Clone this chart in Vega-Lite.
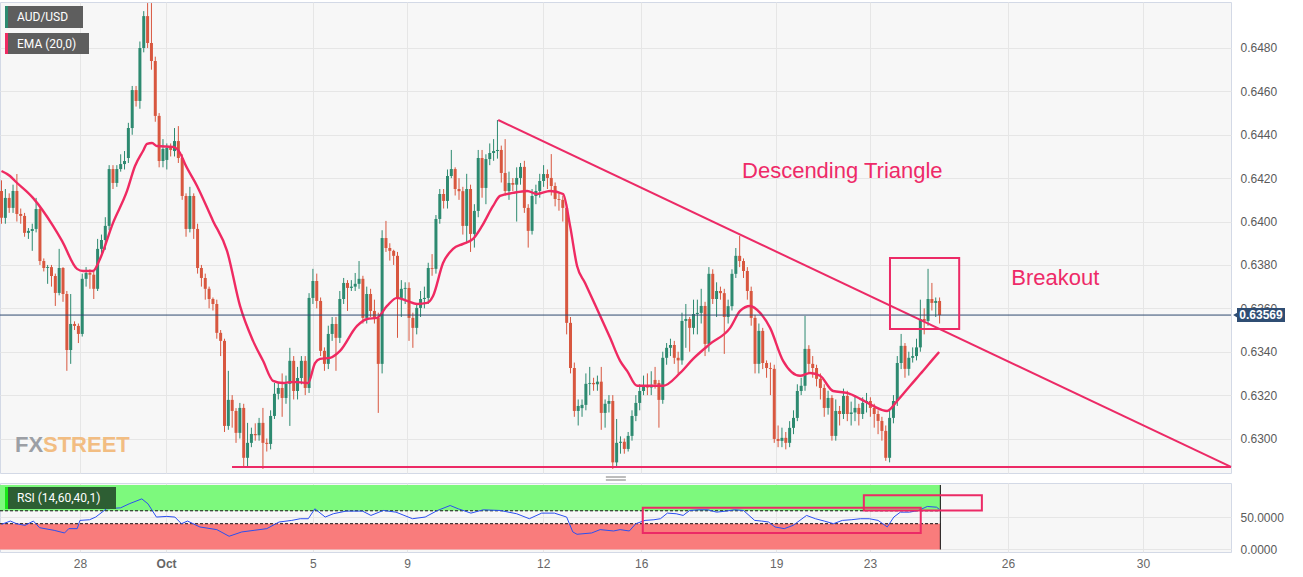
{
"$schema":"https://vega.github.io/schema/vega-lite/v6.json",
"background":"#ffffff",
"padding":{"left":-4,"top":1,"right":22,"bottom":5},
"spacing":2,
"config":{
 "view":{"stroke":"#d3d9e6","fill":"#f7f7f7","strokeWidth":1},
 "axis":{"labelFont":"Liberation Sans","labelColor":"#5a5a5a","labelFontSize":12,"gridColor":"#e6e6e6","domain":false,"ticks":false}
},
"datasets":{
"one":[{}],
"candles":[
{"t":0,"o":0.64141,"h":0.64190,"l":0.63990,"c":0.64017},
{"t":1,"o":0.64017,"h":0.64150,"l":0.63990,"c":0.64109},
{"t":2,"o":0.64109,"h":0.64130,"l":0.64040,"c":0.64063},
{"t":3,"o":0.64063,"h":0.64170,"l":0.64040,"c":0.64141},
{"t":4,"o":0.64141,"h":0.64219,"l":0.64000,"c":0.64035},
{"t":5,"o":0.64035,"h":0.64060,"l":0.63990,"c":0.64026},
{"t":6,"o":0.64026,"h":0.64040,"l":0.63930,"c":0.63948},
{"t":7,"o":0.63948,"h":0.63970,"l":0.63920,"c":0.63957},
{"t":8,"o":0.63957,"h":0.63990,"l":0.63865,"c":0.63966},
{"t":9,"o":0.63966,"h":0.64109,"l":0.63950,"c":0.64058},
{"t":10,"o":0.64058,"h":0.64070,"l":0.63800,"c":0.63818},
{"t":11,"o":0.63818,"h":0.63830,"l":0.63770,"c":0.63786},
{"t":12,"o":0.63786,"h":0.63800,"l":0.63713,"c":0.63790},
{"t":13,"o":0.63790,"h":0.63800,"l":0.63700,"c":0.63749},
{"t":14,"o":0.63749,"h":0.63760,"l":0.63611,"c":0.63671},
{"t":15,"o":0.63671,"h":0.63874,"l":0.63660,"c":0.63786},
{"t":16,"o":0.63786,"h":0.63790,"l":0.63630,"c":0.63666},
{"t":17,"o":0.63666,"h":0.63680,"l":0.63312,"c":0.63408},
{"t":18,"o":0.63408,"h":0.63666,"l":0.63344,"c":0.63528},
{"t":19,"o":0.63528,"h":0.63540,"l":0.63500,"c":0.63519},
{"t":20,"o":0.63519,"h":0.63530,"l":0.63440,"c":0.63482},
{"t":21,"o":0.63482,"h":0.63760,"l":0.63470,"c":0.63736},
{"t":22,"o":0.63736,"h":0.63790,"l":0.63700,"c":0.63763},
{"t":23,"o":0.63763,"h":0.63780,"l":0.63690,"c":0.63755},
{"t":24,"o":0.63755,"h":0.63770,"l":0.63643,"c":0.63690},
{"t":25,"o":0.63690,"h":0.63920,"l":0.63680,"c":0.63874},
{"t":26,"o":0.63874,"h":0.63940,"l":0.63850,"c":0.63915},
{"t":27,"o":0.63915,"h":0.64020,"l":0.63870,"c":0.63980},
{"t":28,"o":0.63980,"h":0.64260,"l":0.63960,"c":0.64242},
{"t":29,"o":0.64242,"h":0.64260,"l":0.64150,"c":0.64178},
{"t":30,"o":0.64178,"h":0.64260,"l":0.64160,"c":0.64242},
{"t":31,"o":0.64242,"h":0.64310,"l":0.64230,"c":0.64265},
{"t":32,"o":0.64265,"h":0.64325,"l":0.64240,"c":0.64279},
{"t":33,"o":0.64293,"h":0.64455,"l":0.64270,"c":0.64431},
{"t":34,"o":0.64431,"h":0.64625,"l":0.64400,"c":0.64606},
{"t":35,"o":0.64606,"h":0.64625,"l":0.64530,"c":0.64556},
{"t":36,"o":0.64556,"h":0.64830,"l":0.64520,"c":0.64800},
{"t":37,"o":0.64800,"h":0.64970,"l":0.64780,"c":0.64947},
{"t":38,"o":0.64947,"h":0.65007,"l":0.64800,"c":0.64823},
{"t":39,"o":0.64823,"h":0.65007,"l":0.64700,"c":0.64740},
{"t":40,"o":0.64740,"h":0.64760,"l":0.64460,"c":0.64487},
{"t":41,"o":0.64487,"h":0.64500,"l":0.64250,"c":0.64279},
{"t":42,"o":0.64279,"h":0.64380,"l":0.64250,"c":0.64335},
{"t":43,"o":0.64284,"h":0.64360,"l":0.64240,"c":0.64339},
{"t":44,"o":0.64339,"h":0.64360,"l":0.64300,"c":0.64330},
{"t":45,"o":0.64325,"h":0.64431,"l":0.64300,"c":0.64371},
{"t":46,"o":0.64371,"h":0.64440,"l":0.64270,"c":0.64293},
{"t":47,"o":0.64293,"h":0.64310,"l":0.64100,"c":0.64118},
{"t":48,"o":0.64118,"h":0.64130,"l":0.63930,"c":0.63966},
{"t":49,"o":0.63966,"h":0.64160,"l":0.63950,"c":0.64118},
{"t":50,"o":0.64118,"h":0.64130,"l":0.63920,"c":0.63966},
{"t":51,"o":0.63966,"h":0.63990,"l":0.63760,"c":0.63786},
{"t":52,"o":0.63786,"h":0.63800,"l":0.63700,"c":0.63740},
{"t":53,"o":0.63740,"h":0.63760,"l":0.63640,"c":0.63690},
{"t":54,"o":0.63690,"h":0.63700,"l":0.63600,"c":0.63643},
{"t":55,"o":0.63643,"h":0.63650,"l":0.63590,"c":0.63620},
{"t":56,"o":0.63620,"h":0.63640,"l":0.63460,"c":0.63487},
{"t":57,"o":0.63487,"h":0.63500,"l":0.63380,"c":0.63450},
{"t":58,"o":0.63450,"h":0.63460,"l":0.63030,"c":0.63058},
{"t":59,"o":0.63058,"h":0.63312,"l":0.63040,"c":0.63178},
{"t":60,"o":0.63178,"h":0.63200,"l":0.63050,"c":0.63127},
{"t":61,"o":0.63127,"h":0.63140,"l":0.62980,"c":0.63026},
{"t":62,"o":0.63026,"h":0.63164,"l":0.63000,"c":0.63141},
{"t":63,"o":0.63141,"h":0.63160,"l":0.62865,"c":0.62911},
{"t":64,"o":0.62911,"h":0.63072,"l":0.62865,"c":0.62980},
{"t":65,"o":0.62980,"h":0.63050,"l":0.62960,"c":0.63021},
{"t":66,"o":0.63021,"h":0.63070,"l":0.62990,"c":0.63015},
{"t":67,"o":0.63015,"h":0.63095,"l":0.62990,"c":0.63072},
{"t":68,"o":0.63072,"h":0.63141,"l":0.62860,"c":0.62980},
{"t":69,"o":0.62980,"h":0.63000,"l":0.62940,"c":0.62975},
{"t":70,"o":0.62975,"h":0.63130,"l":0.62950,"c":0.63104},
{"t":71,"o":0.63104,"h":0.63256,"l":0.63090,"c":0.63206},
{"t":72,"o":0.63206,"h":0.63260,"l":0.63180,"c":0.63233},
{"t":73,"o":0.63233,"h":0.63300,"l":0.63100,"c":0.63187},
{"t":74,"o":0.63187,"h":0.63290,"l":0.63160,"c":0.63252},
{"t":75,"o":0.63252,"h":0.63418,"l":0.63058,"c":0.63358},
{"t":76,"o":0.63358,"h":0.63380,"l":0.63180,"c":0.63219},
{"t":77,"o":0.63219,"h":0.63330,"l":0.63180,"c":0.63279},
{"t":78,"o":0.63279,"h":0.63380,"l":0.63250,"c":0.63358},
{"t":79,"o":0.63358,"h":0.63380,"l":0.63200,"c":0.63233},
{"t":80,"o":0.63233,"h":0.63670,"l":0.63210,"c":0.63648},
{"t":81,"o":0.63648,"h":0.63782,"l":0.63620,"c":0.63726},
{"t":82,"o":0.63726,"h":0.63760,"l":0.63600,"c":0.63634},
{"t":83,"o":0.63634,"h":0.63650,"l":0.63380,"c":0.63404},
{"t":84,"o":0.63404,"h":0.63420,"l":0.63312,"c":0.63344},
{"t":85,"o":0.63344,"h":0.63520,"l":0.63320,"c":0.63482},
{"t":86,"o":0.63482,"h":0.63560,"l":0.63450,"c":0.63528},
{"t":87,"o":0.63528,"h":0.63560,"l":0.63312,"c":0.63464},
{"t":88,"o":0.63464,"h":0.63680,"l":0.63440,"c":0.63643},
{"t":89,"o":0.63643,"h":0.63740,"l":0.63620,"c":0.63717},
{"t":90,"o":0.63717,"h":0.63730,"l":0.63588,"c":0.63694},
{"t":91,"o":0.63694,"h":0.63730,"l":0.63680,"c":0.63700},
{"t":92,"o":0.63700,"h":0.63763,"l":0.63680,"c":0.63713},
{"t":93,"o":0.63713,"h":0.63818,"l":0.63690,"c":0.63736},
{"t":94,"o":0.63736,"h":0.63750,"l":0.63530,"c":0.63556},
{"t":95,"o":0.63556,"h":0.63700,"l":0.63530,"c":0.63666},
{"t":96,"o":0.63666,"h":0.63690,"l":0.63560,"c":0.63588},
{"t":97,"o":0.63588,"h":0.63640,"l":0.63530,"c":0.63556},
{"t":98,"o":0.63556,"h":0.63580,"l":0.63118,"c":0.63344},
{"t":99,"o":0.63344,"h":0.63960,"l":0.63300,"c":0.63924},
{"t":100,"o":0.63924,"h":0.64003,"l":0.63860,"c":0.63878},
{"t":101,"o":0.63878,"h":0.63900,"l":0.63820,"c":0.63865},
{"t":102,"o":0.63865,"h":0.63870,"l":0.63800,"c":0.63842},
{"t":103,"o":0.63842,"h":0.63860,"l":0.63464,"c":0.63648},
{"t":104,"o":0.63648,"h":0.63730,"l":0.63560,"c":0.63690},
{"t":105,"o":0.63690,"h":0.63720,"l":0.63620,"c":0.63694},
{"t":106,"o":0.63694,"h":0.63720,"l":0.63450,"c":0.63556},
{"t":107,"o":0.63556,"h":0.63580,"l":0.63418,"c":0.63510},
{"t":108,"o":0.63510,"h":0.63620,"l":0.63480,"c":0.63602},
{"t":109,"o":0.63602,"h":0.63680,"l":0.63560,"c":0.63643},
{"t":110,"o":0.63643,"h":0.63700,"l":0.63600,"c":0.63648},
{"t":111,"o":0.63648,"h":0.63810,"l":0.63620,"c":0.63786},
{"t":112,"o":0.63786,"h":0.63850,"l":0.63750,"c":0.63782},
{"t":113,"o":0.63782,"h":0.64030,"l":0.63760,"c":0.64012},
{"t":114,"o":0.64012,"h":0.64150,"l":0.63990,"c":0.64127},
{"t":115,"o":0.64127,"h":0.64150,"l":0.64060,"c":0.64095},
{"t":116,"o":0.64095,"h":0.64240,"l":0.64060,"c":0.64210},
{"t":117,"o":0.64210,"h":0.64330,"l":0.64200,"c":0.64242},
{"t":118,"o":0.64242,"h":0.64250,"l":0.64120,"c":0.64150},
{"t":119,"o":0.64150,"h":0.64200,"l":0.64100,"c":0.64140},
{"t":120,"o":0.64140,"h":0.64160,"l":0.63940,"c":0.63980},
{"t":121,"o":0.63980,"h":0.64220,"l":0.63900,"c":0.64150},
{"t":122,"o":0.64150,"h":0.64170,"l":0.63860,"c":0.63943},
{"t":123,"o":0.63943,"h":0.64080,"l":0.63880,"c":0.64049},
{"t":124,"o":0.64049,"h":0.64330,"l":0.64020,"c":0.64293},
{"t":125,"o":0.64293,"h":0.64330,"l":0.64110,"c":0.64155},
{"t":126,"o":0.64155,"h":0.64310,"l":0.64080,"c":0.64288},
{"t":127,"o":0.64288,"h":0.64360,"l":0.64260,"c":0.64316},
{"t":128,"o":0.64316,"h":0.64380,"l":0.64280,"c":0.64325},
{"t":129,"o":0.64325,"h":0.64468,"l":0.64290,"c":0.64330},
{"t":130,"o":0.64330,"h":0.64350,"l":0.64180,"c":0.64224},
{"t":131,"o":0.64224,"h":0.64380,"l":0.64120,"c":0.64141},
{"t":132,"o":0.64141,"h":0.64230,"l":0.64100,"c":0.64178},
{"t":133,"o":0.64178,"h":0.64200,"l":0.64140,"c":0.64170},
{"t":134,"o":0.64170,"h":0.64250,"l":0.64000,"c":0.64201},
{"t":135,"o":0.64201,"h":0.64270,"l":0.64170,"c":0.64252},
{"t":136,"o":0.64252,"h":0.64280,"l":0.64040,"c":0.64063},
{"t":137,"o":0.64063,"h":0.64080,"l":0.63880,"c":0.63957},
{"t":138,"o":0.63957,"h":0.64150,"l":0.63940,"c":0.64118},
{"t":139,"o":0.64118,"h":0.64170,"l":0.64080,"c":0.64141},
{"t":140,"o":0.64141,"h":0.64220,"l":0.64110,"c":0.64187},
{"t":141,"o":0.64187,"h":0.64260,"l":0.64160,"c":0.64219},
{"t":142,"o":0.64219,"h":0.64240,"l":0.64150,"c":0.64201},
{"t":143,"o":0.64201,"h":0.64311,"l":0.64120,"c":0.64164},
{"t":144,"o":0.64164,"h":0.64180,"l":0.64070,"c":0.64104},
{"t":145,"o":0.64104,"h":0.64130,"l":0.64050,"c":0.64100},
{"t":146,"o":0.64100,"h":0.64120,"l":0.64000,"c":0.64063},
{"t":147,"o":0.64063,"h":0.64080,"l":0.63480,"c":0.63533},
{"t":148,"o":0.63533,"h":0.63560,"l":0.63300,"c":0.63325},
{"t":149,"o":0.63325,"h":0.63350,"l":0.63100,"c":0.63127},
{"t":150,"o":0.63127,"h":0.63180,"l":0.63060,"c":0.63150},
{"t":151,"o":0.63140,"h":0.63180,"l":0.63100,"c":0.63155},
{"t":152,"o":0.63155,"h":0.63300,"l":0.63130,"c":0.63252},
{"t":153,"o":0.63252,"h":0.63330,"l":0.63200,"c":0.63256},
{"t":154,"o":0.63256,"h":0.63280,"l":0.63220,"c":0.63250},
{"t":155,"o":0.63250,"h":0.63290,"l":0.63220,"c":0.63262},
{"t":156,"o":0.63262,"h":0.63330,"l":0.63040,"c":0.63118},
{"t":157,"o":0.63118,"h":0.63180,"l":0.63050,"c":0.63160},
{"t":158,"o":0.63160,"h":0.63200,"l":0.63120,"c":0.63173},
{"t":159,"o":0.63173,"h":0.63200,"l":0.62860,"c":0.62890},
{"t":160,"o":0.62890,"h":0.63090,"l":0.62870,"c":0.62980},
{"t":161,"o":0.62980,"h":0.63010,"l":0.62930,"c":0.62985},
{"t":162,"o":0.62985,"h":0.63000,"l":0.62930,"c":0.62952},
{"t":163,"o":0.62952,"h":0.63030,"l":0.62940,"c":0.63012},
{"t":164,"o":0.63012,"h":0.63130,"l":0.62990,"c":0.63104},
{"t":165,"o":0.63104,"h":0.63200,"l":0.63080,"c":0.63164},
{"t":166,"o":0.63164,"h":0.63250,"l":0.63130,"c":0.63219},
{"t":167,"o":0.63219,"h":0.63290,"l":0.63200,"c":0.63243},
{"t":168,"o":0.63243,"h":0.63300,"l":0.63200,"c":0.63235},
{"t":169,"o":0.63235,"h":0.63310,"l":0.63200,"c":0.63247},
{"t":170,"o":0.63270,"h":0.63330,"l":0.63230,"c":0.63250},
{"t":171,"o":0.63256,"h":0.63270,"l":0.63050,"c":0.63178},
{"t":172,"o":0.63178,"h":0.63400,"l":0.63160,"c":0.63372},
{"t":173,"o":0.63372,"h":0.63440,"l":0.63340,"c":0.63418},
{"t":174,"o":0.63418,"h":0.63460,"l":0.63380,"c":0.63431},
{"t":175,"o":0.63431,"h":0.63450,"l":0.63344,"c":0.63372},
{"t":176,"o":0.63372,"h":0.63400,"l":0.63300,"c":0.63360},
{"t":177,"o":0.63360,"h":0.63580,"l":0.63340,"c":0.63542},
{"t":178,"o":0.63542,"h":0.63620,"l":0.63418,"c":0.63551},
{"t":179,"o":0.63551,"h":0.63560,"l":0.63400,"c":0.63510},
{"t":180,"o":0.63510,"h":0.63640,"l":0.63480,"c":0.63574},
{"t":181,"o":0.63574,"h":0.63640,"l":0.63480,"c":0.63579},
{"t":182,"o":0.63579,"h":0.63690,"l":0.63530,"c":0.63611},
{"t":183,"o":0.63611,"h":0.63630,"l":0.63380,"c":0.63436},
{"t":184,"o":0.63436,"h":0.63790,"l":0.63400,"c":0.63759},
{"t":185,"o":0.63759,"h":0.63780,"l":0.63620,"c":0.63643},
{"t":186,"o":0.63643,"h":0.63720,"l":0.63560,"c":0.63680},
{"t":187,"o":0.63680,"h":0.63700,"l":0.63640,"c":0.63670},
{"t":188,"o":0.63670,"h":0.63690,"l":0.63390,"c":0.63560},
{"t":189,"o":0.63560,"h":0.63640,"l":0.63530,"c":0.63610},
{"t":190,"o":0.63610,"h":0.63780,"l":0.63590,"c":0.63759},
{"t":191,"o":0.63759,"h":0.63878,"l":0.63740,"c":0.63842},
{"t":192,"o":0.63842,"h":0.63934,"l":0.63790,"c":0.63818},
{"t":193,"o":0.63818,"h":0.63830,"l":0.63740,"c":0.63772},
{"t":194,"o":0.63772,"h":0.63790,"l":0.63640,"c":0.63680},
{"t":195,"o":0.63680,"h":0.63700,"l":0.63520,"c":0.63556},
{"t":196,"o":0.63556,"h":0.63570,"l":0.63300,"c":0.63344},
{"t":197,"o":0.63344,"h":0.63530,"l":0.63300,"c":0.63496},
{"t":198,"o":0.63496,"h":0.63510,"l":0.63320,"c":0.63348},
{"t":199,"o":0.63348,"h":0.63360,"l":0.63280,"c":0.63325},
{"t":200,"o":0.63325,"h":0.63350,"l":0.63200,"c":0.63321},
{"t":201,"o":0.63321,"h":0.63340,"l":0.62980,"c":0.62998},
{"t":202,"o":0.62998,"h":0.63060,"l":0.62960,"c":0.62989},
{"t":203,"o":0.62989,"h":0.63050,"l":0.62960,"c":0.63003},
{"t":204,"o":0.63003,"h":0.63030,"l":0.62950,"c":0.62980},
{"t":205,"o":0.62980,"h":0.63080,"l":0.62960,"c":0.63049},
{"t":206,"o":0.63049,"h":0.63130,"l":0.63020,"c":0.63095},
{"t":207,"o":0.63095,"h":0.63250,"l":0.63080,"c":0.63219},
{"t":208,"o":0.63219,"h":0.63280,"l":0.63200,"c":0.63243},
{"t":209,"o":0.63243,"h":0.63565,"l":0.63220,"c":0.63413},
{"t":210,"o":0.63413,"h":0.63430,"l":0.63300,"c":0.63344},
{"t":211,"o":0.63344,"h":0.63380,"l":0.63280,"c":0.63325},
{"t":212,"o":0.63325,"h":0.63340,"l":0.63240,"c":0.63275},
{"t":213,"o":0.63275,"h":0.63300,"l":0.63180,"c":0.63233},
{"t":214,"o":0.63233,"h":0.63250,"l":0.63100,"c":0.63141},
{"t":215,"o":0.63141,"h":0.63220,"l":0.63110,"c":0.63187},
{"t":216,"o":0.63187,"h":0.63200,"l":0.62990,"c":0.63012},
{"t":217,"o":0.63012,"h":0.63180,"l":0.62990,"c":0.63127},
{"t":218,"o":0.63127,"h":0.63150,"l":0.63060,"c":0.63113},
{"t":219,"o":0.63113,"h":0.63230,"l":0.63090,"c":0.63196},
{"t":220,"o":0.63196,"h":0.63220,"l":0.63080,"c":0.63113},
{"t":221,"o":0.63113,"h":0.63170,"l":0.63060,"c":0.63120},
{"t":222,"o":0.63120,"h":0.63200,"l":0.63080,"c":0.63141},
{"t":223,"o":0.63141,"h":0.63160,"l":0.63060,"c":0.63113},
{"t":224,"o":0.63113,"h":0.63190,"l":0.63090,"c":0.63164},
{"t":225,"o":0.63164,"h":0.63210,"l":0.63120,"c":0.63173},
{"t":226,"o":0.63173,"h":0.63190,"l":0.63100,"c":0.63141},
{"t":227,"o":0.63141,"h":0.63160,"l":0.63050,"c":0.63113},
{"t":228,"o":0.63113,"h":0.63130,"l":0.63020,"c":0.63081},
{"t":229,"o":0.63081,"h":0.63100,"l":0.62990,"c":0.63035},
{"t":230,"o":0.63035,"h":0.63060,"l":0.62897,"c":0.62911},
{"t":231,"o":0.62911,"h":0.63130,"l":0.62890,"c":0.63095},
{"t":232,"o":0.63095,"h":0.63200,"l":0.63070,"c":0.63173},
{"t":233,"o":0.63173,"h":0.63380,"l":0.63150,"c":0.63348},
{"t":234,"o":0.63348,"h":0.63482,"l":0.63320,"c":0.63427},
{"t":235,"o":0.63427,"h":0.63440,"l":0.63280,"c":0.63321},
{"t":236,"o":0.63321,"h":0.63400,"l":0.63290,"c":0.63372},
{"t":237,"o":0.63372,"h":0.63420,"l":0.63350,"c":0.63380},
{"t":238,"o":0.63380,"h":0.63460,"l":0.63360,"c":0.63420},
{"t":239,"o":0.63420,"h":0.63640,"l":0.63400,"c":0.63551},
{"t":240,"o":0.63551,"h":0.63600,"l":0.63480,"c":0.63542},
{"t":241,"o":0.63542,"h":0.63782,"l":0.63520,"c":0.63643},
{"t":242,"o":0.63643,"h":0.63717,"l":0.63590,"c":0.63625},
{"t":243,"o":0.63625,"h":0.63650,"l":0.63560,"c":0.63634},
{"t":244,"o":0.63634,"h":0.63650,"l":0.63530,"c":0.63569}
],
"ema":[
{"t":0,"v":0.64233},{"t":2.21,"v":0.64210},{"t":3.51,"v":0.64187},{"t":8.19,"v":0.64109},{"t":13.4,"v":0.63980},{"t":15.74,"v":0.63911},{"t":19.64,"v":0.63782},{"t":21.2,"v":0.63772},{"t":23.8,"v":0.63772},{"t":25.62,"v":0.63828},{"t":29.01,"v":0.63994},{"t":32.65,"v":0.64141},{"t":34.73,"v":0.64256},{"t":36.81,"v":0.64325},{"t":37.85,"v":0.64358},{"t":39.15,"v":0.64362},{"t":40.45,"v":0.64348},{"t":44.61,"v":0.64344},{"t":46.44,"v":0.64316},{"t":47.74,"v":0.64265},{"t":50.86,"v":0.64164},{"t":55.02,"v":0.64003},{"t":58.66,"v":0.63865},{"t":62.04,"v":0.63611},{"t":65.43,"v":0.63450},{"t":68.03,"v":0.63358},{"t":70.63,"v":0.63266},{"t":73.23,"v":0.63256},{"t":75.83,"v":0.63261},{"t":79.73,"v":0.63256},{"t":81.55,"v":0.63348},{"t":82.86,"v":0.63367},{"t":85.46,"v":0.63372},{"t":88.06,"v":0.63404},{"t":92.48,"v":0.63519},{"t":95.08,"v":0.63551},{"t":97.68,"v":0.63556},{"t":100.28,"v":0.63611},{"t":102.88,"v":0.63648},{"t":105.49,"v":0.63634},{"t":108.09,"v":0.63620},{"t":110.69,"v":0.63625},{"t":112.25,"v":0.63657},{"t":114.85,"v":0.63809},{"t":117.45,"v":0.63874},{"t":120.05,"v":0.63897},{"t":122.65,"v":0.63920},{"t":125.0,"v":0.63980},{"t":127.86,"v":0.64072},{"t":129.68,"v":0.64118},{"t":133.06,"v":0.64132},{"t":136.71,"v":0.64141},{"t":139.31,"v":0.64127},{"t":142.69,"v":0.64141},{"t":146.07,"v":0.64127},{"t":147.89,"v":0.63980},{"t":149.71,"v":0.63795},{"t":151.79,"v":0.63717},{"t":154.91,"v":0.63597},{"t":158.3,"v":0.63464},{"t":160.9,"v":0.63358},{"t":162.72,"v":0.63312},{"t":165.32,"v":0.63243},{"t":168.7,"v":0.63243},{"t":172.09,"v":0.63243},{"t":176.51,"v":0.63302},{"t":179.89,"v":0.63367},{"t":184.31,"v":0.63436},{"t":189.52,"v":0.63510},{"t":192.12,"v":0.63588},{"t":194.72,"v":0.63611},{"t":197.32,"v":0.63579},{"t":199.92,"v":0.63510},{"t":203.3,"v":0.63358},{"t":207.73,"v":0.63289},{"t":210.33,"v":0.63302},{"t":212.93,"v":0.63289},{"t":216.31,"v":0.63219},{"t":219.95,"v":0.63210},{"t":223.34,"v":0.63183},{"t":226.72,"v":0.63150},{"t":230.36,"v":0.63127},{"t":232.96,"v":0.63173},{"t":236.34,"v":0.63243},{"t":239.72,"v":0.63312},{"t":242.33,"v":0.63367},{"t":243.89,"v":0.63399}
],
"rsi":[
{"t":0,"r":39.0},{"t":2.3,"r":44.1},{"t":3.9,"r":40.0},{"t":6.1,"r":37.4},{"t":8.3,"r":44.1},{"t":9.9,"r":33.8},{"t":13.7,"r":29.7},{"t":16.4,"r":25.6},{"t":17.5,"r":32.3},{"t":19.7,"r":32.3},{"t":20.4,"r":45.1},{"t":22.9,"r":46.1},{"t":24.5,"r":50.3},{"t":27.3,"r":63.1},{"t":31.0,"r":64.6},{"t":33.2,"r":70.8},{"t":36.5,"r":78.5},{"t":38.1,"r":70.8},{"t":40.3,"r":50.3},{"t":43.0,"r":51.3},{"t":45.1,"r":50.3},{"t":46.8,"r":40.0},{"t":48.4,"r":44.1},{"t":51.6,"r":34.9},{"t":56.0,"r":30.8},{"t":59.2,"r":20.5},{"t":62.5,"r":27.2},{"t":65.7,"r":29.7},{"t":69.0,"r":32.3},{"t":72.2,"r":42.6},{"t":75.5,"r":45.1},{"t":77.7,"r":47.7},{"t":79.8,"r":47.7},{"t":81.5,"r":63.1},{"t":84.2,"r":50.3},{"t":86.3,"r":55.4},{"t":89.6,"r":59.5},{"t":93.9,"r":59.5},{"t":96.1,"r":52.8},{"t":99.3,"r":60.5},{"t":102.6,"r":57.9},{"t":106.9,"r":47.7},{"t":110.2,"r":50.3},{"t":113.4,"r":60.5},{"t":116.7,"r":68.2},{"t":118.8,"r":63.1},{"t":122.1,"r":56.4},{"t":125.3,"r":61.5},{"t":129.7,"r":60.5},{"t":134.0,"r":55.4},{"t":137.3,"r":47.7},{"t":140.5,"r":56.4},{"t":143.8,"r":56.4},{"t":147.0,"r":50.3},{"t":148.6,"r":27.2},{"t":149.7,"r":23.6},{"t":153.5,"r":25.6},{"t":155.7,"r":30.8},{"t":159.2,"r":28.7},{"t":160.9,"r":30.8},{"t":163.3,"r":28.7},{"t":165.0,"r":40.0},{"t":167.4,"r":45.1},{"t":169.7,"r":46.1},{"t":171.4,"r":47.7},{"t":173.2,"r":56.4},{"t":175.5,"r":55.4},{"t":177.3,"r":52.8},{"t":179.0,"r":60.5},{"t":181.4,"r":61.5},{"t":183.7,"r":61.5},{"t":186.0,"r":57.9},{"t":188.4,"r":59.5},{"t":190.7,"r":61.5},{"t":193.0,"r":60.5},{"t":195.9,"r":45.1},{"t":197.7,"r":44.1},{"t":199.5,"r":42.6},{"t":201.2,"r":34.9},{"t":203.6,"r":32.3},{"t":205.9,"r":37.4},{"t":209.4,"r":52.8},{"t":211.7,"r":47.7},{"t":214.0,"r":44.1},{"t":216.4,"r":40.0},{"t":218.7,"r":45.1},{"t":221.0,"r":46.1},{"t":223.4,"r":47.7},{"t":225.7,"r":47.7},{"t":228.0,"r":45.1},{"t":230.4,"r":34.9},{"t":232.1,"r":50.3},{"t":233.8,"r":57.9},{"t":236.2,"r":57.9},{"t":238.5,"r":60.5},{"t":240.8,"r":66.7},{"t":243.2,"r":65.6},{"t":244.0,"r":62.0}
]
},
"vconcat":[
{
 "width":1231,"height":471,
 "layer":[
  {"data":{"name":"candles"},"mark":{"type":"rule","strokeWidth":1},
   "encoding":{
    "x":{"field":"t","type":"quantitative","scale":{"domain":[-0.39,319.8],"nice":false,"zero":false,"padding":0},
         "axis":{"values":[20.4,42.8,81.0,105.5,140.9,166.4,201.5,225.9,261.8,296.9],"labels":false,"ticks":false,"domain":false,"grid":true,"title":null,"labelPadding":0}},
    "y":{"field":"l","type":"quantitative","scale":{"domain":[0.62841,0.65012],"nice":false,"zero":false,"padding":0},
         "axis":{"orient":"right","values":[0.630,0.632,0.634,0.636,0.638,0.640,0.642,0.644,0.646,0.648],"format":".4f","labelPadding":9,"grid":true,"title":null}},
    "y2":{"field":"h"},
    "color":{"condition":{"test":"datum.c >= datum.o","value":"#2d8a70"},"value":"#d8573f"}
   }},
  {"data":{"name":"candles"},"mark":{"type":"bar","size":3},
   "encoding":{
    "x":{"field":"t","type":"quantitative"},
    "y":{"field":"o","type":"quantitative"},
    "y2":{"field":"c"},
    "color":{"condition":{"test":"datum.c >= datum.o","value":"#2d8a70"},"value":"#d8573f"}
   }},
  {"data":{"name":"ema"},"mark":{"type":"line","color":"#ef2a62","strokeWidth":2.4,"interpolate":"monotone"},
   "encoding":{"x":{"field":"t","type":"quantitative"},"y":{"field":"v","type":"quantitative"}}},
  {"data":{"values":[{"t":129.2,"p":0.64468,"t2":319.8,"p2":0.62869},{"t":59.96,"p":0.62869,"t2":319.8,"p2":0.62869}]},
   "mark":{"type":"rule","color":"#ec2a66","strokeWidth":2},
   "encoding":{"x":{"field":"t","type":"quantitative"},"x2":{"field":"t2"},"y":{"field":"p","type":"quantitative"},"y2":{"field":"p2"}}},
  {"data":{"values":[{"t0":-0.39,"t1":319.8,"p":0.63569}]},"mark":{"type":"rule","color":"#2f4a70","strokeWidth":1},
   "encoding":{"x":{"field":"t0","type":"quantitative"},"x2":{"field":"t1"},"y":{"field":"p","type":"quantitative"}}},
  {"data":{"values":[{"t":231.1,"t2":249.1,"p":0.63832,"p2":0.63505}]},
   "mark":{"type":"rect","fill":"transparent","stroke":"#ec2a66","strokeWidth":2},
   "encoding":{"x":{"field":"t","type":"quantitative"},"x2":{"field":"t2"},"y":{"field":"p","type":"quantitative"},"y2":{"field":"p2"}}},
  {"data":{"values":[{"t":218.7,"p":0.64233,"txt":"Descending Triangle"},{"t":274.1,"p":0.63740,"txt":"Breakout"}]},
   "mark":{"type":"text","color":"#ee2a68","fontSize":22,"font":"Liberation Sans","align":"center","baseline":"middle"},
   "encoding":{"x":{"field":"t","type":"quantitative"},"y":{"field":"p","type":"quantitative"},"text":{"field":"txt"}}},
  {"data":{"name":"one"},"mark":{"type":"text","text":"FX","font":"Liberation Sans","fontWeight":"bold","fontSize":22,"color":"#9c9fa5","align":"left","baseline":"alphabetic","xOffset":15,"yOffset":-21},
   "encoding":{"x":{"datum":-0.39,"type":"quantitative"},"y":{"datum":0.62841,"type":"quantitative"}}},
  {"data":{"name":"one"},"mark":{"type":"text","text":"STREET","font":"Liberation Sans","fontWeight":"bold","fontSize":22,"color":"#f2bd82","align":"left","baseline":"alphabetic","xOffset":43,"yOffset":-21},
   "encoding":{"x":{"datum":-0.39,"type":"quantitative"},"y":{"datum":0.62841,"type":"quantitative"}}},
  {"data":{"name":"one"},"mark":{"type":"rect","fill":"#5e5e5e","xOffset":5,"x2Offset":83,"yOffset":4,"y2Offset":26},
   "encoding":{"x":{"datum":-0.39,"type":"quantitative"},"x2":{"datum":-0.39},"y":{"datum":0.65012,"type":"quantitative"},"y2":{"datum":0.65012}}},
  {"data":{"name":"one"},"mark":{"type":"rect","fill":"#2d8a70","xOffset":5,"x2Offset":8,"yOffset":4,"y2Offset":26},
   "encoding":{"x":{"datum":-0.39,"type":"quantitative"},"x2":{"datum":-0.39},"y":{"datum":0.65012,"type":"quantitative"},"y2":{"datum":0.65012}}},
  {"data":{"name":"one"},"mark":{"type":"rect","fill":"#5e5e5e","xOffset":5,"x2Offset":89,"yOffset":31,"y2Offset":52},
   "encoding":{"x":{"datum":-0.39,"type":"quantitative"},"x2":{"datum":-0.39},"y":{"datum":0.65012,"type":"quantitative"},"y2":{"datum":0.65012}}},
  {"data":{"name":"one"},"mark":{"type":"rect","fill":"#ef2a62","xOffset":5,"x2Offset":8,"yOffset":31,"y2Offset":52},
   "encoding":{"x":{"datum":-0.39,"type":"quantitative"},"x2":{"datum":-0.39},"y":{"datum":0.65012,"type":"quantitative"},"y2":{"datum":0.65012}}},
  {"data":{"name":"one"},"mark":{"type":"text","text":"AUD/USD","font":"Roboto","fontSize":12,"color":"#ffffff","align":"left","baseline":"middle","xOffset":17,"yOffset":15},
   "encoding":{"x":{"datum":-0.39,"type":"quantitative"},"y":{"datum":0.65012,"type":"quantitative"}}},
  {"data":{"name":"one"},"mark":{"type":"text","text":"EMA (20,0)","font":"Roboto","fontSize":12,"color":"#ffffff","align":"left","baseline":"middle","xOffset":17,"yOffset":42},
   "encoding":{"x":{"datum":-0.39,"type":"quantitative"},"y":{"datum":0.65012,"type":"quantitative"}}},
  {"data":{"name":"one"},"mark":{"type":"rect","fill":"#2f4d73","xOffset":6,"x2Offset":54,"yOffset":-7,"y2Offset":7},
   "encoding":{"x":{"datum":319.8,"type":"quantitative"},"x2":{"datum":319.8},"y":{"datum":0.63569,"type":"quantitative"},"y2":{"datum":0.63569}}},
  {"data":{"name":"one"},"mark":{"type":"point","shape":"triangle-left","filled":true,"size":45,"color":"#2f4d73","opacity":1,"xOffset":5},
   "encoding":{"x":{"datum":319.8,"type":"quantitative"},"y":{"datum":0.63569,"type":"quantitative"}}},
  {"data":{"name":"one"},"mark":{"type":"text","text":"0.63569","font":"Liberation Sans","fontWeight":"bold","fontSize":12,"color":"#ffffff","align":"center","baseline":"middle","xOffset":30},
   "encoding":{"x":{"datum":319.8,"type":"quantitative"},"y":{"datum":0.63569,"type":"quantitative"}}}
 ]
},
{
 "width":1231,"height":69,
 "layer":[
  {"data":{"name":"one"},"mark":{"type":"rect","fill":"#7df97d"},
   "encoding":{
    "x":{"datum":-0.39,"type":"quantitative","scale":{"domain":[-0.39,319.8],"nice":false,"zero":false,"padding":0},
         "axis":{"values":[20.4,42.8,81.0,105.5,140.9,166.4,201.5,225.9,261.8,296.9],"grid":true,"title":null,"labelPadding":6,"labelColor":"#666666",
                 "labelExpr":"datum.value < 30 ? '28' : datum.value < 50 ? 'Oct' : datum.value < 90 ? '5' : datum.value < 120 ? '9' : datum.value < 150 ? '12' : datum.value < 180 ? '16' : datum.value < 210 ? '19' : datum.value < 240 ? '23' : datum.value < 280 ? '26' : '30'",
                 "labelFontWeight":{"condition":{"test":"datum.value > 40 && datum.value < 50","value":"bold"},"value":"normal"}}},
    "x2":{"datum":244.2},
    "y":{"datum":60,"type":"quantitative","scale":{"domain":[-3.9,103.1],"nice":false,"zero":false,"padding":0},
         "axis":{"orient":"right","values":[0,50],"format":".4f","labelPadding":9,"grid":true,"title":null}},
    "y2":{"datum":100}
   }},
  {"data":{"name":"one"},"mark":{"type":"rect","fill":"#f97c7c"},
   "encoding":{"x":{"datum":-0.39,"type":"quantitative"},"x2":{"datum":244.2},"y":{"datum":0,"type":"quantitative"},"y2":{"datum":40}}},
  {"data":{"name":"one"},"mark":{"type":"rule","color":"#111111","strokeWidth":1,"strokeDash":[3,2]},
   "encoding":{"x":{"datum":-0.39,"type":"quantitative"},"x2":{"datum":244.2},"y":{"datum":60,"type":"quantitative"}}},
  {"data":{"name":"one"},"mark":{"type":"rule","color":"#111111","strokeWidth":1,"strokeDash":[3,2]},
   "encoding":{"x":{"datum":-0.39,"type":"quantitative"},"x2":{"datum":244.2},"y":{"datum":40,"type":"quantitative"}}},
  {"data":{"name":"one"},"mark":{"type":"rule","color":"#111111","strokeWidth":1},
   "encoding":{"x":{"datum":244.2,"type":"quantitative"},"y":{"datum":0,"type":"quantitative"},"y2":{"datum":100}}},
  {"data":{"name":"rsi"},"mark":{"type":"line","color":"#2b4ff0","strokeWidth":1},
   "encoding":{"x":{"field":"t","type":"quantitative"},"y":{"field":"r","type":"quantitative"}}},
  {"data":{"values":[{"t":166.8,"t2":239.1,"r":64.6,"r2":25.6},{"t":224.3,"t2":255.0,"r":84.1,"r2":60.5}]},
   "mark":{"type":"rect","fill":"transparent","stroke":"#ec2a66","strokeWidth":2},
   "encoding":{"x":{"field":"t","type":"quantitative"},"x2":{"field":"t2"},"y":{"field":"r","type":"quantitative"},"y2":{"field":"r2"}}},
  {"data":{"name":"one"},"mark":{"type":"rect","fill":"#2d5e33","xOffset":5,"x2Offset":116,"yOffset":4,"y2Offset":26},
   "encoding":{"x":{"datum":-0.39,"type":"quantitative"},"x2":{"datum":-0.39},"y":{"datum":103.1,"type":"quantitative"},"y2":{"datum":103.1}}},
  {"data":{"name":"one"},"mark":{"type":"rect","fill":"#19e619","xOffset":5,"x2Offset":8,"yOffset":4,"y2Offset":26},
   "encoding":{"x":{"datum":-0.39,"type":"quantitative"},"x2":{"datum":-0.39},"y":{"datum":103.1,"type":"quantitative"},"y2":{"datum":103.1}}},
  {"data":{"name":"one"},"mark":{"type":"text","text":"RSI (14,60,40,1)","font":"Roboto","fontSize":12,"color":"#ffffff","align":"left","baseline":"middle","xOffset":17,"yOffset":15},
   "encoding":{"x":{"datum":-0.39,"type":"quantitative"},"y":{"datum":103.1,"type":"quantitative"}}},
  {"data":{"name":"one"},"mark":{"type":"rule","color":"#7a7a7a","strokeWidth":1,"yOffset":-6},
   "encoding":{"x":{"datum":157.2,"type":"quantitative"},"x2":{"datum":162.4},"y":{"datum":103.1,"type":"quantitative"}}},
  {"data":{"name":"one"},"mark":{"type":"rule","color":"#7a7a7a","strokeWidth":1,"yOffset":-3},
   "encoding":{"x":{"datum":157.2,"type":"quantitative"},"x2":{"datum":162.4},"y":{"datum":103.1,"type":"quantitative"}}}
 ]
}
]
}
